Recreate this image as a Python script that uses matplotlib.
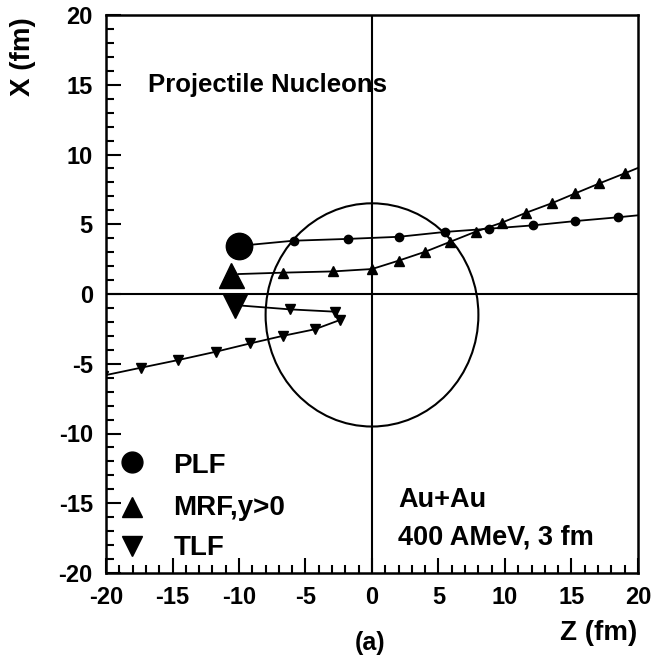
import numpy as np
import matplotlib
matplotlib.use('Agg')
import matplotlib.pyplot as plt
from matplotlib.patches import Circle
from matplotlib.ticker import MultipleLocator

plt.rcParams['font.family'] = ['Liberation Sans', 'DejaVu Sans']
plt.rcParams['font.weight'] = 'bold'
plt.rcParams['axes.unicode_minus'] = False

# trajectories in the reaction plane (Z, X) in fm
plf_z = [-10.0, -5.9, -1.8, 2.0, 5.5, 8.8, 12.1, 15.3, 18.5, 21.7]
plf_x = [3.45, 3.82, 3.95, 4.1, 4.45, 4.68, 4.92, 5.23, 5.5, 5.8]

mrf_z = [-10.05, -6.7, -2.9, 0.0, 2.0, 4.0, 5.9, 7.8, 9.75, 11.6, 13.5, 15.3, 17.1, 19.0, 20.8]
mrf_x = [1.43, 1.53, 1.62, 1.79, 2.39, 3.03, 3.75, 4.47, 5.11, 5.83, 6.5, 7.22, 7.93, 8.65, 9.35]

tlf_z = [-9.7, -6.2, -2.75, -2.4, -4.3, -6.7, -9.15, -11.75, -14.55, -17.35, -20.2]
tlf_x = [-0.84, -1.1, -1.27, -1.86, -2.53, -3.0, -3.54, -4.14, -4.73, -5.28, -5.85]

# initial positions (big markers)
start_z = {'PLF': -10.0, 'MRF': -10.6, 'TLF': -10.3}
start_x = {'PLF': 3.45, 'MRF': 1.38, 'TLF': -0.88}

# nucleus outline
nuc_center = (0.0, -1.5)
nuc_radius = 8.0

labels = ['PLF', 'MRF,y>0', 'TLF']

fig = plt.figure(figsize=(6.52, 6.56), dpi=100)
ax = fig.add_axes([106 / 652, 83 / 656, 532 / 652, 558 / 656])
ax.set_xlim(-20, 20)
ax.set_ylim(-20, 20)

ax.axhline(0, color='black', lw=1.5)
ax.axvline(0, color='black', lw=1.5)
ax.add_patch(Circle(nuc_center, nuc_radius, fill=False, color='black', lw=1.5))

ax.plot(plf_z, plf_x, '-o', color='black', lw=1.3, ms=6, markevery=slice(1, None))
ax.plot(mrf_z, mrf_x, '-^', color='black', lw=1.3, ms=6.5, markevery=slice(1, None))
ax.plot(tlf_z, tlf_x, '-v', color='black', lw=1.3, ms=6.5, markevery=slice(1, None))

ax.plot(start_z['PLF'], start_x['PLF'], 'o', color='black', ms=19)
ax.plot(start_z['MRF'], start_x['MRF'], '^', color='black', ms=18)
ax.plot(start_z['TLF'], start_x['TLF'], 'v', color='black', ms=17)

# legend drawn by hand, ROOT style
leg_marks = ['o', '^', 'v']
leg_y = [0.1995, 0.1177, 0.049]
leg_text_y = [0.1787, 0.104, 0.0323]
for m, ym, yt, lab in zip(leg_marks, leg_y, leg_text_y, labels):
    ax.plot([0.049], [ym], m, color='black', ms=15, transform=ax.transAxes, clip_on=False)
    ax.text(0.1265, yt, lab, transform=ax.transAxes, fontsize=20, fontweight='bold', va='baseline')

ax.text(0.0795, 0.8625, 'Projectile Nucleons', transform=ax.transAxes,
        fontsize=18.5, fontweight='bold', va='baseline')
ax.text(0.549, 0.118, 'Au+Au', transform=ax.transAxes, fontsize=19.5, fontweight='bold', va='baseline')
ax.text(0.549, 0.0502, '400 AMeV, 3 fm', transform=ax.transAxes, fontsize=19.5,
        fontweight='bold', va='baseline')

ax.xaxis.set_major_locator(MultipleLocator(5))
ax.xaxis.set_minor_locator(MultipleLocator(1))
ax.yaxis.set_major_locator(MultipleLocator(5))
ax.yaxis.set_minor_locator(MultipleLocator(1))
ax.tick_params(which='both', direction='in', top=False, right=False, width=1.5,
               labelsize=17, pad=9.5)
ax.tick_params(which='major', length=11)
ax.tick_params(which='minor', length=5.5)
for lab in ax.get_xticklabels() + ax.get_yticklabels():
    lab.set_fontweight('bold')
for s in ax.spines.values():
    s.set_linewidth(1.8)

fig.text(637 / 652, 1 - 620 / 656, 'Z (fm)', ha='right', va='top', fontsize=20, fontweight='bold')
fig.text(23 / 652, 1 - 17 / 656, 'X (fm)', ha='center', va='top', rotation=90,
         fontsize=20, fontweight='bold')
fig.text(370 / 652, 1 - 631 / 656, '(a)', ha='center', va='top', fontsize=18, fontweight='bold')

fig.savefig('out.png', dpi=100)
